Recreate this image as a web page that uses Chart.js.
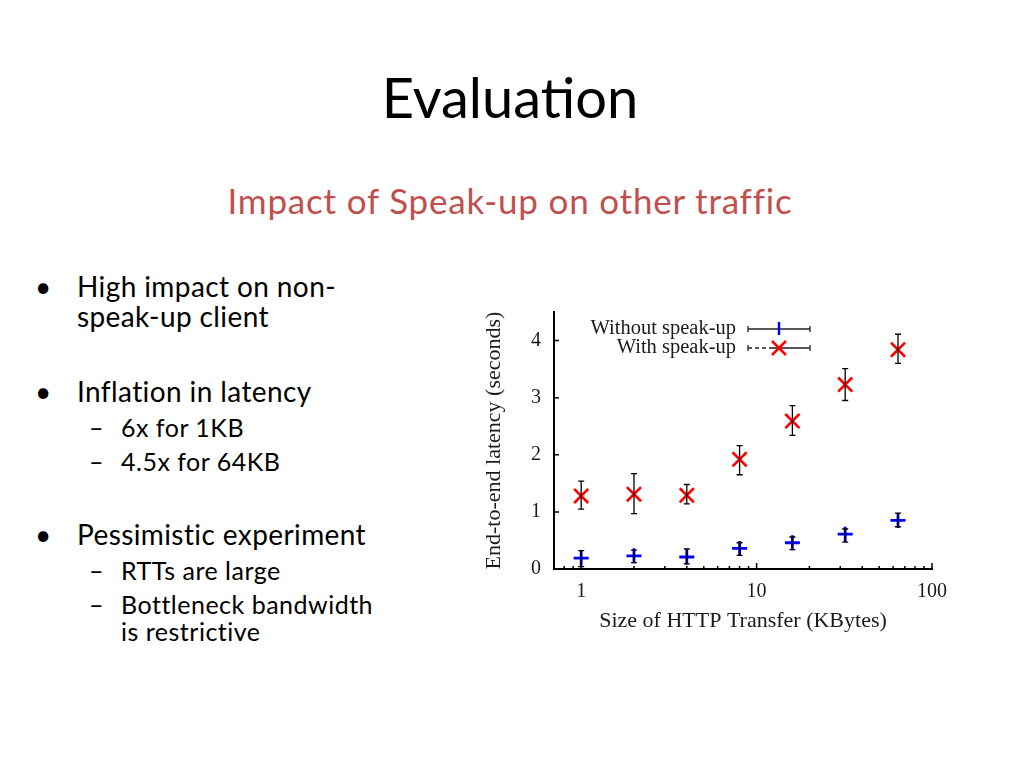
<!doctype html>
<html lang="en">
<head>
<meta charset="utf-8">
<title>Evaluation</title>
<style>
  body { margin: 0; width: 1024px; height: 768px; background: #fff; position: relative; overflow: hidden; font-family: "Lato", "Open Sans", sans-serif; color: #000; }
  .abs { position: absolute; white-space: nowrap; }
  .title { left: 0; width: 1020px; text-align: center; top: 62px; font-size: 56px; line-height: 70px; }
  .subtitle { left: 0; width: 1020px; text-align: center; top: 180px; font-size: 35px; line-height: 40px; letter-spacing: 0.8px; color: #c0504d; }
  .b1 { font-size: 28px; line-height: 30px; letter-spacing: 0.4px; }
  .b2 { font-size: 25px; line-height: 28px; letter-spacing: 0.5px; }
  #chartBox { position: absolute; left: 470px; top: 295px; width: 500px; height: 350px; }
</style>
</head>
<body>

<div class="abs title">Evaluation</div>
<div class="abs subtitle">Impact of Speak-up on other traffic</div>

<div class="abs b1" style="left:35px; top:271px;">•</div>
<div class="abs b1" style="left:77px; top:271px;">High impact on non-</div>
<div class="abs b1" style="left:77px; top:301px;">speak-up client</div>

<div class="abs b1" style="left:35px; top:376px;">•</div>
<div class="abs b1" style="left:77px; top:376px;">Inflation in latency</div>
<div class="abs b2" style="left:89px; top:413px;">–</div>
<div class="abs b2" style="left:121px; top:413px;">6x for 1KB</div>
<div class="abs b2" style="left:89px; top:447px;">–</div>
<div class="abs b2" style="left:121px; top:447px;">4.5x for 64KB</div>

<div class="abs b1" style="left:35px; top:519px;">•</div>
<div class="abs b1" style="left:77px; top:519px;">Pessimistic experiment</div>
<div class="abs b2" style="left:89px; top:556px;">–</div>
<div class="abs b2" style="left:121px; top:556px;">RTTs are large</div>
<div class="abs b2" style="left:89px; top:590px;">–</div>
<div class="abs b2" style="left:121px; top:590px;">Bottleneck bandwidth</div>
<div class="abs b2" style="left:121px; top:617px;">is restrictive</div>

<div id="chartBox"><canvas id="myChart"></canvas></div>

<script src="https://cdn.jsdelivr.net/npm/chart.js"></script>
<script>
// transfer sizes (KBytes)
var sizes = [1, 2, 4, 8, 16, 32, 64];

// latency without speak-up (seconds) + error bar ends
var withoutMean = [0.19, 0.23, 0.21, 0.36, 0.46, 0.61, 0.85];
var withoutLow  = [0.04, 0.11, 0.09, 0.24, 0.34, 0.47, 0.74];
var withoutHigh = [0.32, 0.33, 0.35, 0.46, 0.56, 0.70, 0.98];

// latency with speak-up
var withMean = [1.28, 1.31, 1.29, 1.92, 2.59, 3.23, 3.84];
var withLow  = [1.05, 0.97, 1.14, 1.65, 2.34, 2.95, 3.60];
var withHigh = [1.54, 1.67, 1.48, 2.16, 2.86, 3.51, 4.11];

// axis ticks
var xMajorTicks = [1, 10, 100];
var xMinorTicks = [0.8, 0.9, 2, 3, 4, 5, 6, 7, 8, 9, 20, 30, 40, 50, 60, 70, 80, 90];
var yTicks = [0, 1, 2, 3, 4];

var labelWithout = 'Without speak-up';
var labelWith = 'With speak-up';

var serif = '"Liberation Serif", "DejaVu Serif", serif';
var inkColor = '#1a1a1a';

function toPoints(means) {
  return sizes.map(function(s, i) { return { x: s, y: means[i] }; });
}

// black error bars with small caps
var errorBars = {
  id: 'errorBars',
  afterDatasetsDraw: function(chart) {
    var ctx = chart.ctx;
    var xs = chart.scales.x, ys = chart.scales.y;
    var sets = [[withLow, withHigh], [withoutLow, withoutHigh]];
    ctx.save();
    ctx.strokeStyle = '#000';
    ctx.lineWidth = 1.3;
    sets.forEach(function(pair) {
      sizes.forEach(function(s, i) {
        var px = xs.getPixelForValue(s);
        var lo = ys.getPixelForValue(pair[0][i]);
        var hi = ys.getPixelForValue(pair[1][i]);
        ctx.beginPath();
        ctx.moveTo(px, lo); ctx.lineTo(px, hi);
        ctx.moveTo(px - 3, lo); ctx.lineTo(px + 3, lo);
        ctx.moveTo(px - 3, hi); ctx.lineTo(px + 3, hi);
        ctx.stroke();
      });
    });
    ctx.restore();
  }
};

// inward tick marks on both axes
var innerTicks = {
  id: 'innerTicks',
  afterDraw: function(chart) {
    var ctx = chart.ctx;
    var xs = chart.scales.x, ys = chart.scales.y;
    var area = chart.chartArea;
    ctx.save();
    ctx.strokeStyle = '#000';
    ctx.lineWidth = 1.5;
    ctx.beginPath();
    xMajorTicks.forEach(function(v) {
      var px = xs.getPixelForValue(v);
      ctx.moveTo(px, area.bottom); ctx.lineTo(px, area.bottom - 6);
    });
    xMinorTicks.forEach(function(v) {
      var px = xs.getPixelForValue(v);
      ctx.moveTo(px, area.bottom); ctx.lineTo(px, area.bottom - 3);
    });
    yTicks.forEach(function(v) {
      var py = ys.getPixelForValue(v);
      ctx.moveTo(area.left, py); ctx.lineTo(area.left + 5, py);
    });
    ctx.stroke();
    ctx.restore();
  }
};

// gnuplot style key in the top left of the plot
var keyBox = {
  id: 'keyBox',
  afterDraw: function(chart) {
    var ctx = chart.ctx;
    var area = chart.chartArea;
    var textRight = area.left + 182;
    var x1 = area.left + 194, x2 = area.left + 256, xm = area.left + 225;
    var rows = [area.top + 17, area.top + 36];
    ctx.save();
    ctx.font = '20.5px ' + serif;
    ctx.fillStyle = inkColor;
    ctx.textAlign = 'right';
    ctx.textBaseline = 'middle';
    ctx.fillText(chart.data.datasets[0].label, textRight, rows[0]);
    ctx.fillText(chart.data.datasets[1].label, textRight, rows[1]);

    ctx.strokeStyle = '#222';
    ctx.lineWidth = 1.3;
    rows.forEach(function(ry, r) {
      ctx.beginPath();
      if (r === 1) {
        ctx.setLineDash([4, 3]);
        ctx.moveTo(x1, ry); ctx.lineTo(xm - 6, ry);
        ctx.stroke();
        ctx.setLineDash([]);
        ctx.beginPath();
        ctx.moveTo(xm - 6, ry); ctx.lineTo(x2, ry);
      } else {
        ctx.moveTo(x1, ry); ctx.lineTo(x2, ry);
      }
      ctx.moveTo(x1, ry - 3); ctx.lineTo(x1, ry + 3);
      ctx.moveTo(x2, ry - 3); ctx.lineTo(x2, ry + 3);
      ctx.stroke();
    });

    // markers
    ctx.lineWidth = 2.5;
    ctx.strokeStyle = '#0000ff';
    ctx.beginPath();
    ctx.moveTo(xm, rows[0] - 7); ctx.lineTo(xm, rows[0] + 6);
    ctx.stroke();
    ctx.strokeStyle = '#ff0000';
    ctx.beginPath();
    ctx.moveTo(xm - 7, rows[1] - 7); ctx.lineTo(xm + 7, rows[1] + 7);
    ctx.moveTo(xm - 7, rows[1] + 7); ctx.lineTo(xm + 7, rows[1] - 7);
    ctx.stroke();
    ctx.restore();
  }
};

var ctx = document.getElementById('myChart').getContext('2d');
new Chart(ctx, {
  type: 'scatter',
  data: {
    datasets: [{
      label: labelWithout,
      data: toPoints(withoutMean),
      pointStyle: 'cross',
      pointRadius: 7.5,
      pointHoverRadius: 7.5,
      borderColor: '#0000ff',
      backgroundColor: '#0000ff',
      pointBorderWidth: 2.8
    }, {
      label: labelWith,
      data: toPoints(withMean),
      pointStyle: 'crossRot',
      pointRadius: 10,
      pointHoverRadius: 10,
      borderColor: '#ff0000',
      backgroundColor: '#ff0000',
      pointBorderWidth: 2.6
    }]
  },
  options: {
    responsive: true,
    maintainAspectRatio: false,
    animation: false,
    clip: false,
    layout: { padding: { top: 17, right: 38, left: 0, bottom: 0 } },
    plugins: {
      legend: { display: false },
      tooltip: { enabled: false }
    },
    scales: {
      x: {
        type: 'logarithmic',
        min: 0.7,
        max: 100,
        afterBuildTicks: function(scale) {
          scale.ticks = xMajorTicks.map(function(v) { return { value: v }; });
        },
        afterFit: function(scale) {
          scale.height = 76;
          scale.paddingLeft = 0;
          scale.paddingRight = 0;
        },
        grid: { display: false },
        border: { display: true, color: '#000', width: 2 },
        ticks: {
          autoSkip: false,
          maxRotation: 0,
          padding: 3,
          color: inkColor,
          font: { family: serif, size: 20 },
          callback: function(v) { return String(v); }
        },
        title: {
          display: true,
          text: 'Size of HTTP Transfer (KBytes)',
          color: inkColor,
          font: { family: serif, size: 22 },
          padding: { top: 0, bottom: 11 }
        }
      },
      y: {
        min: 0,
        max: 4.5,
        afterBuildTicks: function(scale) {
          scale.ticks = yTicks.map(function(v) { return { value: v }; });
        },
        afterFit: function(scale) {
          scale.width = 84;
          scale.paddingTop = 0;
          scale.paddingBottom = 0;
        },
        grid: { display: false },
        border: { display: true, color: '#000', width: 2 },
        ticks: {
          padding: 5,
          color: inkColor,
          font: { family: serif, size: 20 }
        },
        title: {
          display: true,
          text: 'End-to-end latency (seconds)',
          color: inkColor,
          font: { family: serif, size: 22 },
          padding: { top: 11, bottom: 0 }
        }
      }
    }
  },
  plugins: [errorBars, innerTicks, keyBox]
});
</script>
</body>
</html>
